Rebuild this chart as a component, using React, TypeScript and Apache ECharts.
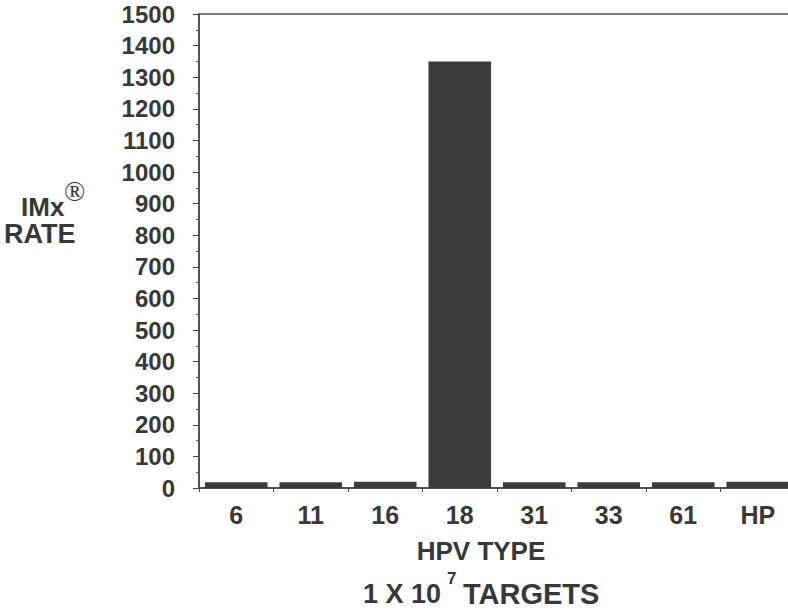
import React, { useEffect, useRef } from "react";
import * as echarts from "echarts";

const categories = ["6", "11", "16", "18", "31", "33", "61", "HP"];
const rates = [18, 18, 20, 1350, 18, 18, 18, 20];
const yMin = 0;
const yMax = 1500;
const yStep = 100;

const FONT = "'Liberation Sans', Arial, Helvetica, sans-serif";
const INK = "#383838";

export default function App() {
  const ref = useRef<HTMLDivElement>(null);
  useEffect(() => {
    if (!ref.current) return;
    const chart = echarts.init(ref.current, undefined, { renderer: "svg" });
    chart.setOption({
      animation: false,
      backgroundColor: "#ffffff",
      grid: {
        left: 199,
        right: 5,
        top: 14,
        bottom: 123,
        show: true,
        borderColor: "#555",
        borderWidth: 1.5,
        backgroundColor: "transparent",
      },
      xAxis: {
        type: "category",
        data: categories,
        axisLine: { lineStyle: { color: "#444", width: 1.5 } },
        axisTick: { show: true, length: 4, inside: false, lineStyle: { color: "#444" } },
        axisLabel: {
          color: INK,
          fontFamily: FONT,
          fontWeight: "bold",
          fontSize: 25,
          margin: 14,
        },
      },
      yAxis: {
        type: "value",
        min: yMin,
        max: yMax,
        interval: yStep,
        splitLine: { show: false },
        axisLine: { show: true, lineStyle: { color: "#444", width: 1.5 } },
        axisTick: { show: true, length: 6, lineStyle: { color: "#444" } },
        minorTick: { show: true, splitNumber: 2, length: 3, lineStyle: { color: "#555" } },
        axisLabel: {
          color: INK,
          fontFamily: FONT,
          fontWeight: "bold",
          fontSize: 24,
          margin: 24,
          formatter: (v: number) => String(v),
        },
      },
      series: [
        {
          type: "bar",
          data: rates,
          barCategoryGap: "16%",
          itemStyle: { color: "#3b3b3b" },
        },
      ],
      graphic: [
        {
          type: "text",
          x: 21,
          y: 207,
          style: { text: "IMx", font: `bold 26px ${FONT}`, fill: INK, verticalAlign: "middle" },
        },
        {
          type: "text",
          x: 64,
          y: 191,
          style: {
            text: "®",
            font: `normal 28px 'Liberation Serif', serif`,
            fill: INK,
            verticalAlign: "middle",
          },
        },
        {
          type: "text",
          x: 4,
          y: 234,
          style: { text: "RATE", font: `bold 27px ${FONT}`, fill: INK, verticalAlign: "middle" },
        },
        {
          type: "text",
          x: 481,
          y: 551,
          style: {
            text: "HPV TYPE",
            font: `bold 26px ${FONT}`,
            fill: INK,
            align: "center",
            verticalAlign: "middle",
          },
        },
        {
          type: "text",
          x: 441,
          y: 594,
          style: {
            text: "1 X 10",
            font: `bold 27px ${FONT}`,
            fill: INK,
            align: "right",
            verticalAlign: "middle",
          },
        },
        {
          type: "text",
          x: 447,
          y: 578,
          style: {
            text: "7",
            font: `bold 17px ${FONT}`,
            fill: INK,
            align: "left",
            verticalAlign: "middle",
          },
        },
        {
          type: "text",
          x: 463,
          y: 594,
          style: {
            text: "TARGETS",
            font: `bold 29px ${FONT}`,
            fill: INK,
            align: "left",
            verticalAlign: "middle",
          },
        },
      ],
    });
    return () => chart.dispose();
  }, []);
  return (
    <div
      ref={ref}
      style={{ position: "fixed", left: 0, top: 0, width: 800, height: 611 }}
    />
  );
}
